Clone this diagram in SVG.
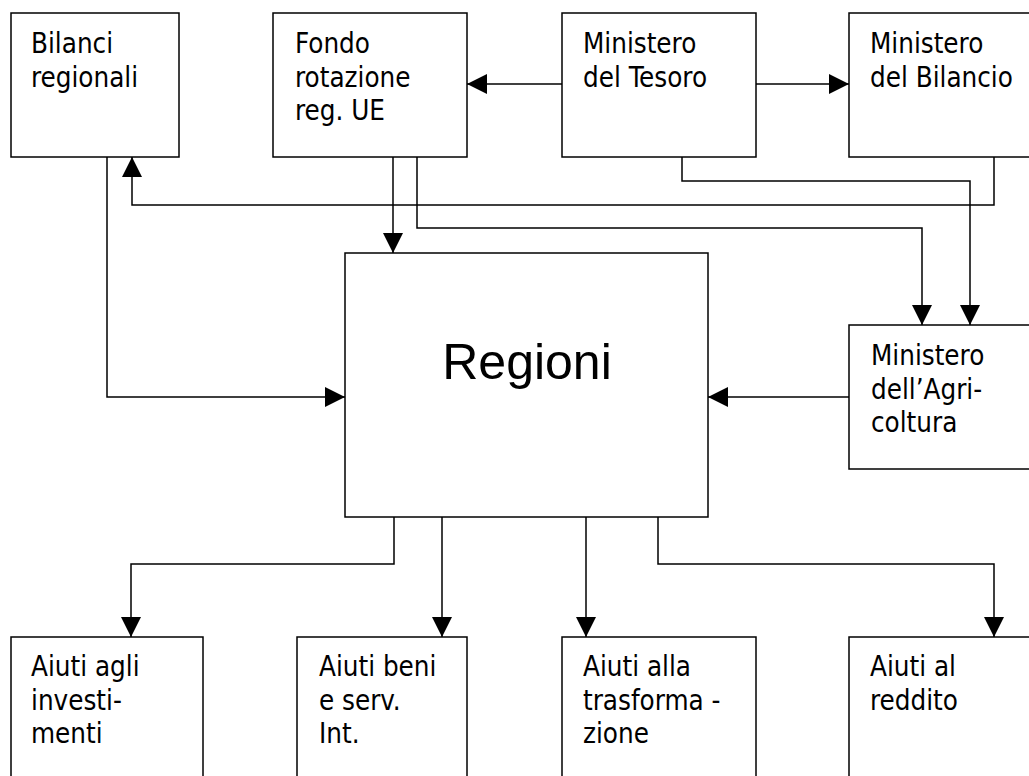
<svg xmlns="http://www.w3.org/2000/svg" width="1029" height="776" viewBox="0 0 1029 776">
  <style>
    .box { fill: #ffffff; stroke: #000000; stroke-width: 1.5; }
    .lbl { font-family: "DejaVu Sans Condensed", "DejaVu Sans", sans-serif; font-stretch: condensed; font-size: 27.5px; fill: #000000; }
    .big { font-family: "Liberation Sans", Arial, sans-serif; font-size: 50px; fill: #000000; }
    .wire { fill: none; stroke: #000000; stroke-width: 1.5; marker-end: url(#head); }
  </style>
  <defs>
    <marker id="head" markerUnits="userSpaceOnUse" markerWidth="20" markerHeight="20" refX="20" refY="10" orient="auto" viewBox="0 0 20 20">
      <path d="M0,0 L20,10 L0,20 z" fill="#000000"/>
    </marker>
  </defs>
  <rect width="1029" height="776" fill="#ffffff"/>

  <!-- top row -->
  <g id="bilanci-regionali">
    <rect class="box" x="11" y="13" width="168" height="144"/>
    <text class="lbl" x="31" y="53">Bilanci</text>
    <text class="lbl" x="31" y="86.5">regionali</text>
  </g>
  <g id="fondo-rotazione">
    <rect class="box" x="273" y="13" width="194" height="144"/>
    <text class="lbl" x="295" y="53">Fondo</text>
    <text class="lbl" x="295" y="86.5">rotazione</text>
    <text class="lbl" x="295" y="120">reg. UE</text>
  </g>
  <g id="ministero-tesoro">
    <rect class="box" x="562" y="13" width="194" height="144"/>
    <text class="lbl" x="583" y="53">Ministero</text>
    <text class="lbl" x="583" y="86.5">del Tesoro</text>
  </g>
  <g id="ministero-bilancio">
    <rect class="box" x="849" y="13" width="200" height="144"/>
    <text class="lbl" x="870" y="53">Ministero</text>
    <text class="lbl" x="870" y="86.5">del Bilancio</text>
  </g>

  <!-- centre -->
  <g id="regioni">
    <rect class="box" x="345" y="253" width="363" height="264"/>
    <text class="big" x="527" y="379" text-anchor="middle">Regioni</text>
  </g>
  <g id="ministero-agricoltura">
    <rect class="box" x="849" y="325" width="200" height="144"/>
    <text class="lbl" x="871" y="365">Ministero</text>
    <text class="lbl" x="871" y="398.5">dell’Agri-</text>
    <text class="lbl" x="871" y="432">coltura</text>
  </g>

  <!-- bottom row -->
  <g id="aiuti-investimenti">
    <rect class="box" x="11" y="637" width="192" height="160"/>
    <text class="lbl" x="31" y="676">Aiuti agli</text>
    <text class="lbl" x="31" y="709.5">investi-</text>
    <text class="lbl" x="31" y="743">menti</text>
  </g>
  <g id="aiuti-beni-servizi">
    <rect class="box" x="297" y="637" width="170" height="160"/>
    <text class="lbl" x="319" y="676">Aiuti beni</text>
    <text class="lbl" x="319" y="709.5">e serv.</text>
    <text class="lbl" x="319" y="743">Int.</text>
  </g>
  <g id="aiuti-trasformazione">
    <rect class="box" x="562" y="637" width="194" height="160"/>
    <text class="lbl" x="583" y="676">Aiuti alla</text>
    <text class="lbl" x="583" y="709.5">trasforma -</text>
    <text class="lbl" x="583" y="743">zione</text>
  </g>
  <g id="aiuti-reddito">
    <rect class="box" x="849" y="637" width="200" height="160"/>
    <text class="lbl" x="870" y="676">Aiuti al</text>
    <text class="lbl" x="870" y="709.5">reddito</text>
  </g>

  <!-- connectors -->
  <g id="connectors">
    <path class="wire" d="M562,84 H467"/>
    <path class="wire" d="M756,84 H849"/>
    <path class="wire" d="M682,157 V181 H970 V325"/>
    <path class="wire" d="M994,157 V205 H132 V157"/>
    <path class="wire" d="M393,157 V253"/>
    <path class="wire" d="M417,157 V228 H922 V325"/>
    <path class="wire" d="M107,157 V397 H345"/>
    <path class="wire" d="M849,397 H708"/>
    <path class="wire" d="M394,517 V564 H131 V637"/>
    <path class="wire" d="M442,517 V637"/>
    <path class="wire" d="M586,517 V637"/>
    <path class="wire" d="M658,517 V564 H994 V637"/>
  </g>
</svg>
